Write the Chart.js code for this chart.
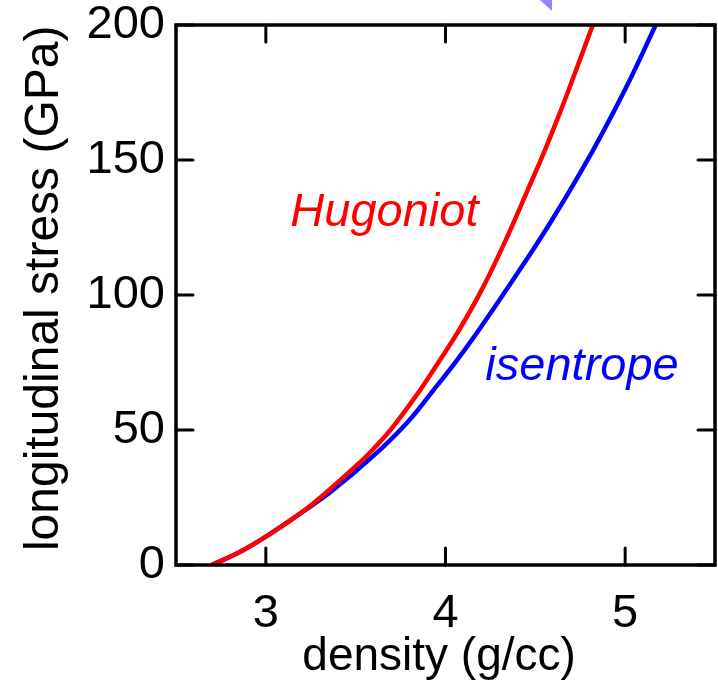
<!DOCTYPE html>
<html>
<head>
<meta charset="utf-8">
<script src="https://cdn.jsdelivr.net/npm/chart.js@4"></script>
<style>
  html, body { margin: 0; padding: 0; background: #fff; }
  #wrap { width: 718px; height: 680px; }
</style>
</head>
<body>
<div id="wrap"><canvas id="stressChart" width="718" height="680"></canvas></div>
<script>
const densityTicks = [3, 4, 5];
const stressTicks = [0, 50, 100, 150, 200];

// Hugoniot (red)
const hugoniotDensity = [2.70, 2.86, 3.00, 3.20, 3.33, 3.54, 3.62, 3.70, 3.84, 3.96, 4.08, 4.21, 4.34, 4.455, 4.54, 4.61, 4.68, 4.75, 4.82];
const hugoniotStress = [0, 5, 10.5, 19.5, 26.5, 39, 44.5, 50.5, 63, 75, 87.5, 103, 121, 138.5, 151.5, 163, 175, 187.5, 200];

// isentrope (blue)
const isentropeDensity = [2.70, 2.86, 3.00, 3.20, 3.36, 3.60, 3.79, 3.93, 4.06, 4.18, 4.38, 4.59, 4.82, 5.01, 5.17];
const isentropeStress = [0, 5, 10.5, 19.5, 27, 40.5, 53, 64.5, 75.5, 86.5, 106, 127.5, 153.5, 177.5, 200];

const curveLabels = [
  { text: "Hugoniot", x: 3.66, y: 125.6, color: "#ff0000" },
  { text: "isentrope", x: 4.76, y: 68.5, color: "#0000ff" },
];

const fontFamily = "'Liberation Sans', Arial, sans-serif";

function toPoints(xs, ys) {
  const pts = [];
  for (let i = 0; i < xs.length; i++) {
    pts.push({ x: xs[i], y: ys[i] });
  }
  return pts;
}

// box round the plot, with ticks pointing inward on every side
const framePlugin = {
  id: "frame",
  afterDraw(chart) {
    const c = chart.ctx;
    const a = chart.chartArea;
    const xs = chart.scales.x;
    const ys = chart.scales.y;
    const tickLen = 17;
    c.save();
    c.strokeStyle = "#000";
    c.lineWidth = 3;
    c.lineCap = "round";
    densityTicks.forEach((v) => {
      const px = xs.getPixelForValue(v);
      c.beginPath();
      c.moveTo(px, a.bottom);
      c.lineTo(px, a.bottom - tickLen);
      c.moveTo(px, a.top);
      c.lineTo(px, a.top + tickLen);
      c.stroke();
    });
    stressTicks.forEach((v) => {
      const py = ys.getPixelForValue(v);
      c.beginPath();
      c.moveTo(a.left, py);
      c.lineTo(a.left + tickLen, py);
      c.moveTo(a.right, py);
      c.lineTo(a.right - tickLen, py);
      c.stroke();
    });
    c.lineCap = "square";
    c.lineWidth = 3.5;
    c.strokeRect(a.left, a.top, a.right - a.left, a.bottom - a.top);

    // curve names
    c.font = "italic 47px " + fontFamily;
    c.textAlign = "center";
    c.textBaseline = "alphabetic";
    curveLabels.forEach((l) => {
      c.fillStyle = l.color;
      c.fillText(l.text, xs.getPixelForValue(l.x), ys.getPixelForValue(l.y));
    });

    // cut-off arrow head at the top edge of the picture
    c.fillStyle = "#9b80ff";
    c.beginPath();
    c.moveTo(540, 0);
    c.lineTo(552, 0);
    c.lineTo(552, 11);
    c.closePath();
    c.fill();
    c.restore();
  },
};

const ctx = document.getElementById("stressChart");

new Chart(ctx, {
  type: "line",
  data: {
    datasets: [
      {
        label: "Hugoniot",
        data: toPoints(hugoniotDensity, hugoniotStress),
        borderColor: "#ff0000",
        borderWidth: 4.5,
        pointRadius: 0,
        tension: 0.4,
      },
      {
        label: "isentrope",
        data: toPoints(isentropeDensity, isentropeStress),
        borderColor: "#0000ff",
        borderWidth: 4.5,
        pointRadius: 0,
        tension: 0.4,
      },
    ],
  },
  options: {
    responsive: false,
    animation: false,
    layout: { padding: { left: 0, top: 25, right: 3, bottom: 0 } },
    plugins: {
      legend: { display: false },
      tooltip: { enabled: false },
    },
    scales: {
      x: {
        type: "linear",
        min: 2.5,
        max: 5.5,
        afterBuildTicks: (scale) => {
          scale.ticks = densityTicks.map((v) => ({ value: v }));
        },
        afterFit: (scale) => {
          scale.height = 115;
          scale.paddingLeft = 0;
          scale.paddingRight = 0;
        },
        grid: { display: false, drawTicks: false },
        border: { display: false },
        ticks: {
          padding: 21,
          color: "#000",
          font: { family: fontFamily, size: 47 },
        },
        title: {
          display: true,
          text: "density (g/cc) ",
          color: "#000",
          padding: { top: 0, bottom: 0 },
          font: { family: fontFamily, size: 46, lineHeight: 1 },
        },
      },
      y: {
        type: "linear",
        min: 0,
        max: 200,
        afterBuildTicks: (scale) => {
          scale.ticks = stressTicks.map((v) => ({ value: v }));
        },
        afterFit: (scale) => {
          scale.width = 176;
          scale.paddingTop = 0;
          scale.paddingBottom = 0;
        },
        grid: { display: false, drawTicks: false },
        border: { display: false },
        ticks: {
          padding: 11,
          color: "#000",
          font: { family: fontFamily, size: 47 },
        },
        title: {
          display: true,
          text: " longitudinal stress (GPa)",
          color: "#000",
          padding: { top: 21, bottom: 0 },
          font: { family: fontFamily, size: 48, lineHeight: 1 },
        },
      },
    },
  },
  plugins: [framePlugin],
});
</script>
</body>
</html>
